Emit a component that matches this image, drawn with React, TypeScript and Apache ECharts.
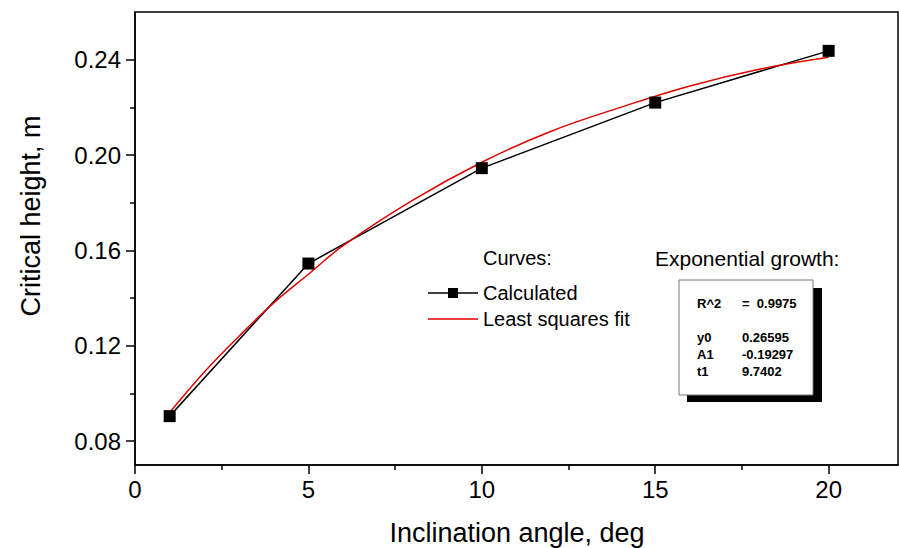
import React, { useEffect, useRef } from "react";
import * as echarts from "echarts";

const calcX = [1, 5, 10, 15, 20];
const calcY = [0.0905, 0.1545, 0.1945, 0.222, 0.2437];
const fitX = [1, 2, 3, 4, 5, 6, 8, 10, 12, 14, 16, 18, 20];
const fitY = [0.092, 0.109, 0.124, 0.138, 0.150, 0.162, 0.181, 0.197, 0.210, 0.220, 0.229, 0.236, 0.241];
const xMajor = [0, 5, 10, 15, 20];
const xMinor = [2.5, 7.5, 12.5, 17.5];
const yMajor = [0.08, 0.12, 0.16, 0.2, 0.24];
const yMinor = [0.1, 0.14, 0.18, 0.22];
const seriesNames = ["Calculated", "Least squares fit"];
const statLabels = ["R^2", "y0", "A1", "t1"];
const statValues = ["=  0.9975", "0.26595", "-0.19297", "9.7402"];

const FONT = "'Liberation Sans', Arial, sans-serif";
const RED = "#e00000";

export default function App() {
  const ref = useRef<HTMLDivElement>(null);
  useEffect(() => {
    if (!ref.current) return;
    const chart = echarts.init(ref.current, null, { renderer: "svg" });
    const axisLine = { show: true, lineStyle: { color: "#000", width: 1.5 } };
    const statRowsY = [303, 337, 354, 371];
    const legendY = [293, 319];
    const option: any = {
      animation: false,
      backgroundColor: "#fff",
      textStyle: { fontFamily: FONT },
      grid: {
        left: 135,
        right: 1,
        top: 12,
        bottom: 83,
        show: true,
        borderColor: "#000",
        borderWidth: 1.5,
        backgroundColor: "transparent",
      },
      xAxis: [
        {
          type: "value",
          min: 0,
          max: 22,
          position: "bottom",
          axisLine,
          axisTick: { show: true, inside: false, length: 9, customValues: xMajor, lineStyle: { color: "#000", width: 1.5 } },
          axisLabel: { customValues: xMajor, fontSize: 24, color: "#000", margin: 12, fontFamily: FONT },
          splitLine: { show: false },
        },
        {
          type: "value",
          min: 0,
          max: 22,
          position: "bottom",
          axisLine: { show: false },
          axisTick: { show: true, inside: false, length: 5, customValues: xMinor, lineStyle: { color: "#000", width: 1.5 } },
          axisLabel: { show: false },
          splitLine: { show: false },
        },
      ],
      yAxis: [
        {
          type: "value",
          min: 0.07,
          max: 0.26,
          position: "left",
          axisLine,
          axisTick: { show: true, inside: false, length: 9, customValues: yMajor, lineStyle: { color: "#000", width: 1.5 } },
          axisLabel: {
            customValues: yMajor,
            fontSize: 24,
            color: "#000",
            margin: 14,
            fontFamily: FONT,
            formatter: (v: number) => v.toFixed(2),
          },
          splitLine: { show: false },
        },
        {
          type: "value",
          min: 0.07,
          max: 0.26,
          position: "left",
          axisLine: { show: false },
          axisTick: { show: true, inside: false, length: 5, customValues: yMinor, lineStyle: { color: "#000", width: 1.5 } },
          axisLabel: { show: false },
          splitLine: { show: false },
        },
      ],
      series: [
        {
          name: seriesNames[0],
          type: "line",
          data: calcX.map((x, i) => [x, calcY[i]]),
          symbol: "rect",
          symbolSize: 12,
          itemStyle: { color: "#000" },
          lineStyle: { color: "#000", width: 1.5 },
        },
        {
          name: seriesNames[1],
          type: "line",
          data: fitX.map((x, i) => [x, fitY[i]]),
          smooth: 0.4,
          showSymbol: false,
          symbol: "none",
          itemStyle: { color: RED },
          lineStyle: { color: RED, width: 1.5 },
        },
      ],
      graphic: [
        {
          type: "text",
          x: 31,
          y: 216,
          rotation: Math.PI / 2,
          style: {
            text: "Critical height, m",
            fontSize: 27,
            fill: "#000",
            fontFamily: FONT,
            align: "center",
            verticalAlign: "middle",
          },
        },
        {
          type: "text",
          x: 517,
          y: 533,
          style: {
            text: "Inclination angle, deg",
            fontSize: 27,
            fill: "#000",
            fontFamily: FONT,
            align: "center",
            verticalAlign: "middle",
          },
        },
        {
          type: "text",
          x: 483,
          y: 258,
          style: { text: "Curves:", fontSize: 20, fill: "#000", fontFamily: FONT, verticalAlign: "middle" },
        },
        {
          type: "line",
          shape: { x1: 428, y1: legendY[0], x2: 478, y2: legendY[0] },
          style: { stroke: "#000", lineWidth: 1.5 },
        },
        {
          type: "rect",
          shape: { x: 448, y: legendY[0] - 5, width: 10, height: 10 },
          style: { fill: "#000" },
        },
        {
          type: "line",
          shape: { x1: 428, y1: legendY[1], x2: 478, y2: legendY[1] },
          style: { stroke: RED, lineWidth: 1.5 },
        },
        ...seriesNames.map((n, i) => ({
          type: "text",
          x: 483,
          y: legendY[i],
          style: { text: n, fontSize: 20, fill: "#000", fontFamily: FONT, verticalAlign: "middle" },
        })),
        {
          type: "text",
          x: 655,
          y: 258,
          style: { text: "Exponential growth:", fontSize: 21, fill: "#000", fontFamily: FONT, verticalAlign: "middle" },
        },
        {
          type: "rect",
          shape: { x: 687, y: 288, width: 135, height: 114 },
          style: { fill: "#000" },
        },
        {
          type: "rect",
          shape: { x: 679, y: 280, width: 134, height: 115 },
          style: { fill: "#fff", stroke: "#777", lineWidth: 1 },
        },
        ...statLabels.map((t, i) => ({
          type: "text",
          x: 697,
          y: statRowsY[i],
          style: {
            text: t,
            fontSize: 13,
            fontWeight: "bold",
            fill: "#000",
            fontFamily: FONT,
            verticalAlign: "middle",
          },
        })),
        ...statValues.map((t, i) => ({
          type: "text",
          x: 742,
          y: statRowsY[i],
          style: {
            text: t,
            fontSize: 13,
            fontWeight: "bold",
            fill: "#000",
            fontFamily: FONT,
            verticalAlign: "middle",
          },
        })),
      ],
    };
    chart.setOption(option);
    return () => chart.dispose();
  }, []);
  return (
    <div
      ref={ref}
      style={{ position: "fixed", left: 0, top: 0, width: 899, height: 548, background: "#fff" }}
    />
  );
}
